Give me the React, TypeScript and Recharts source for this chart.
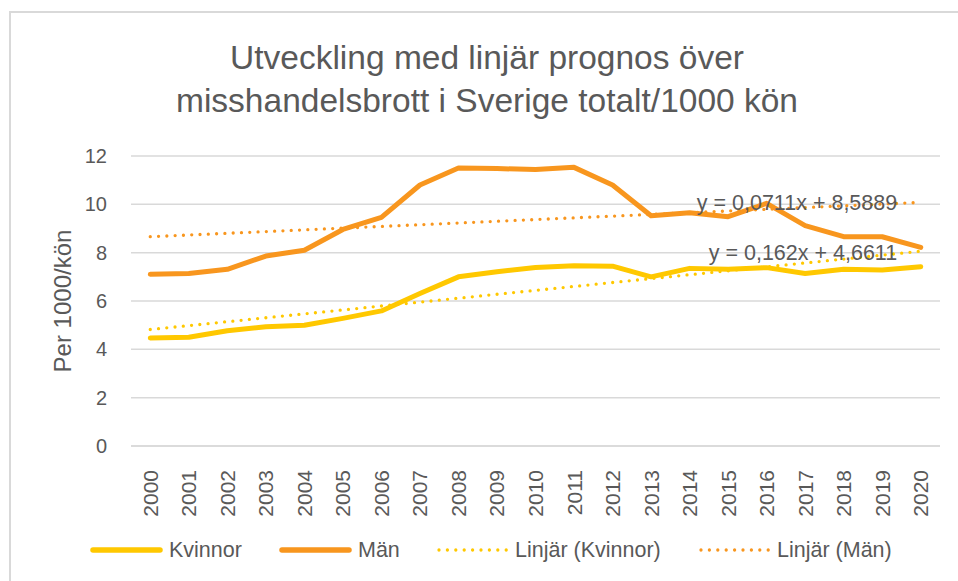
import React from 'react';
import { LineChart, Line, XAxis, YAxis, CartesianGrid, ReferenceDot } from 'recharts';

const years = ['2000','2001','2002','2003','2004','2005','2006','2007','2008','2009','2010','2011','2012','2013','2014','2015','2016','2017','2018','2019','2020'];
const kvinnor = [4.47,4.5,4.77,4.93,5.0,5.28,5.59,6.31,7.0,7.21,7.39,7.46,7.44,7.0,7.35,7.31,7.38,7.14,7.31,7.28,7.42];
const man = [7.11,7.14,7.31,7.86,8.1,8.96,9.46,10.8,11.5,11.48,11.44,11.53,10.8,9.53,9.65,9.49,10.04,9.12,8.66,8.66,8.22];
// Linear trend end points (first and last year)
const kvinnorTrend: (number | null)[] = [4.82,null,null,null,null,null,null,null,null,null,null,null,null,null,null,null,null,null,null,null,8.06];
const manTrend: (number | null)[] = [8.66,null,null,null,null,null,null,null,null,null,null,null,null,null,null,null,null,null,null,null,10.08];
const yTicks = [0,2,4,6,8,10,12];
const seriesNames = ['Kvinnor','Män','Linjär (Kvinnor)','Linjär (Män)'];
const titleLines = ['Utveckling med linjär prognos över','misshandelsbrott i Sverige totalt/1000 kön'];
const yLabel = 'Per 1000/kön';
const eqMan = 'y = 0,0711x + 8,5889';
const eqKv = 'y = 0,162x + 4,6611';
const eqManPos = { x: '2019', y: 10.05 };
const eqKvPos = { x: '2019', y: 7.99 };

const data = years.map((y, i) => ({
  year: y,
  kvinnor: kvinnor[i],
  man: man[i],
  kvTrend: kvinnorTrend[i],
  manTrend: manTrend[i],
}));

const YELLOW = '#FFC800';
const ORANGE = '#F8961E';
const TEXT = '#595959';
const GRID = '#D9D9D9';
const FONT = '"Liberation Sans", Arial, sans-serif';

const XTick = (props: any) => {
  const { x, y, payload } = props;
  const ty = y + 16;
  return (
    <text x={x} y={ty} transform={`rotate(-90, ${x}, ${ty})`} textAnchor="end" dominantBaseline="central" fill={TEXT} fontSize={21} fontFamily={FONT}>
      {payload.value}
    </text>
  );
};

const eqLabel = (text: string) => (props: any) => {
  const vb = props.viewBox || {};
  const cx = (vb.x ?? 0) + (vb.width ?? 0) / 2;
  const cy = (vb.y ?? 0) + (vb.height ?? 0) / 2;
  return (
    <text x={cx + 15} y={cy} textAnchor="end" dominantBaseline="central" fill={TEXT} fontSize={21.5} fontFamily={FONT}>
      {text}
    </text>
  );
};

const LegendItem = ({ color, dotted, label, width }: { color: string; dotted: boolean; label: string; width: number }) => (
  <div style={{ display: 'flex', alignItems: 'center', width }}>
    <svg width={79} height={12} style={{ flex: 'none' }}>
      {dotted ? (
        <line x1={3} y1={6} x2={72} y2={6} stroke={color} strokeWidth={3.3} strokeDasharray="0 8.4" strokeLinecap="round" />
      ) : (
        <line x1={3} y1={6} x2={70} y2={6} stroke={color} strokeWidth={5.5} strokeLinecap="round" />
      )}
    </svg>
    <span style={{ fontSize: 21.5, color: TEXT, fontFamily: FONT, whiteSpace: 'nowrap' }}>{label}</span>
  </div>
);

export default function App() {
  return (
    <div style={{ position: 'absolute', left: 0, top: 0, width: 958, height: 581, background: '#fff', overflow: 'hidden', fontFamily: FONT }}>
      <div style={{ position: 'absolute', left: 9, top: 11, width: 960, height: 580, borderLeft: `2px solid ${GRID}`, borderTop: `2px solid ${GRID}` }} />
      <div style={{ position: 'absolute', left: 0, top: 36, width: 974, textAlign: 'center', color: TEXT, fontSize: 33.5, lineHeight: '43px' }}>
        {titleLines.map((t) => (
          <div key={t}>{t}</div>
        ))}
      </div>
      <div style={{ position: 'absolute', left: 0, top: 0 }}>
        <LineChart width={958} height={581} data={data} margin={{ top: 156, right: 18, bottom: 0, left: 0 }}>
          <CartesianGrid horizontal vertical={false} stroke={GRID} strokeWidth={1.5} />
          <XAxis dataKey="year" height={135} padding={{ left: 19.26, right: 19.26 }} axisLine={{ stroke: GRID, strokeWidth: 1.5 }} tickLine={false} tick={<XTick />} interval={0} />
          <YAxis
            width={131}
            domain={[0, 12]}
            ticks={yTicks}
            axisLine={false}
            tickLine={false}
            tickMargin={18}
            tick={{ fill: TEXT, fontSize: 20, fontFamily: FONT }}
            label={(props: any) => {
              const vb = props.viewBox || {};
              const cy = (vb.y ?? 156) + (vb.height ?? 290) / 2;
              return (
                <text x={62} y={cy} transform={`rotate(-90, 62, ${cy})`} textAnchor="middle" dominantBaseline="central" fill={TEXT} fontSize={24} fontFamily={FONT}>
                  {yLabel}
                </text>
              );
            }}
          />
          <Line dataKey="kvinnor" name={seriesNames[0]} stroke={YELLOW} strokeWidth={5} dot={false} isAnimationActive={false} strokeLinejoin="round" strokeLinecap="round" />
          <Line dataKey="man" name={seriesNames[1]} stroke={ORANGE} strokeWidth={5} dot={false} isAnimationActive={false} strokeLinejoin="round" strokeLinecap="round" />
          <Line dataKey="kvTrend" name={seriesNames[2]} stroke={YELLOW} strokeWidth={3.3} strokeDasharray="0 8.3" strokeLinecap="round" dot={false} connectNulls isAnimationActive={false} />
          <Line dataKey="manTrend" name={seriesNames[3]} stroke={ORANGE} strokeWidth={3.3} strokeDasharray="0 8.3" strokeLinecap="round" dot={false} connectNulls isAnimationActive={false} />
          <ReferenceDot x={eqManPos.x} y={eqManPos.y} r={0} fill="none" stroke="none" label={eqLabel(eqMan)} />
          <ReferenceDot x={eqKvPos.x} y={eqKvPos.y} r={0} fill="none" stroke="none" label={eqLabel(eqKv)} />
        </LineChart>
      </div>
      <div style={{ position: 'absolute', left: 90, top: 538, display: 'flex', alignItems: 'center', height: 24 }}>
        <LegendItem color={YELLOW} dotted={false} label={seriesNames[0]} width={189} />
        <LegendItem color={ORANGE} dotted={false} label={seriesNames[1]} width={157} />
        <LegendItem color={YELLOW} dotted label={seriesNames[2]} width={262} />
        <LegendItem color={ORANGE} dotted label={seriesNames[3]} width={200} />
      </div>
    </div>
  );
}
